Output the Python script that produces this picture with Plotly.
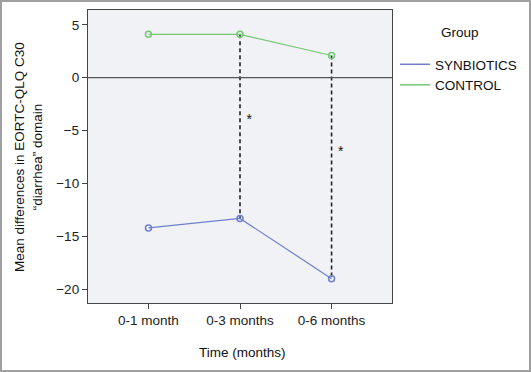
import plotly.graph_objects as go

categories = ["0-1 month", "0-3 months", "0-6 months"]
synbiotics = [-14.2, -13.3, -19.0]
control = [4.1, 4.1, 2.1]
y_ticks = [5, 0, -5, -10, -15, -20]
sig_idx = [1, 2]
star_y = [-4.0, -7.1]

W, H = 531, 372
L, R, T, B = 88, 139, 10, 69
pw, ph = W - L - R, H - T - B


def px_x(px):
    return (px - L) / pw


def px_y(py):
    return (H - B - py) / ph


xs = list(range(len(categories)))
blue = "#6f7fcb"
green = "#74c874"
FONT = "Liberation Sans, Arial"
FS = 13.5

fig = go.Figure()
for i in sig_idx:
    fig.add_trace(go.Scatter(x=[xs[i], xs[i]], y=[control[i], synbiotics[i]], mode="lines",
                             line=dict(color="#222222", width=1.6, dash="4px,3px"),
                             showlegend=False, hoverinfo="skip"))
fig.add_trace(go.Scatter(x=xs, y=synbiotics, mode="lines+markers", name="SYNBIOTICS",
                         line=dict(color=blue, width=1.2), showlegend=False,
                         marker=dict(symbol="circle-open", size=6, color=blue, line=dict(width=1.5))))
fig.add_trace(go.Scatter(x=xs, y=control, mode="lines+markers", name="CONTROL",
                         line=dict(color=green, width=1.2), showlegend=False,
                         marker=dict(symbol="circle-open", size=6, color=green, line=dict(width=1.5))))
fig.add_trace(go.Scatter(x=[None], y=[None], mode="lines", name="SYNBIOTICS",
                         line=dict(color=blue, width=1.5)))
fig.add_trace(go.Scatter(x=[None], y=[None], mode="lines", name="CONTROL",
                         line=dict(color=green, width=1.5)))
fig.add_trace(go.Scatter(x=[xs[i] + 0.1 for i in sig_idx], y=star_y, mode="text", text=["*", "*"],
                         textfont=dict(size=14, color="#111111", family=FONT),
                         showlegend=False, hoverinfo="skip"))

fig.add_shape(type="line", xref="paper", yref="y", x0=0, x1=1, y0=0, y1=0,
              line=dict(color="#555555", width=1.3))
fig.add_shape(type="rect", xref="paper", yref="paper",
              x0=px_x(1), x1=px_x(530), y0=px_y(371), y1=px_y(1),
              line=dict(color="#a0a0a0", width=2), layer="below")

fig.update_layout(
    width=W, height=H,
    margin=dict(l=L, r=R, t=T, b=B, autoexpand=False),
    paper_bgcolor="white", plot_bgcolor="#f1f2f5",
    font=dict(family=FONT, size=FS, color="#222222"),
    legend=dict(x=px_x(395), y=px_y(49), xanchor="left", yanchor="top",
                bgcolor="rgba(0,0,0,0)", font=dict(size=FS, color="#111111"),
                itemwidth=30, tracegroupgap=0, borderwidth=0),
    annotations=[dict(text="Group", xref="paper", yref="paper", x=px_x(460), y=px_y(32),
                      showarrow=False, font=dict(size=FS, color="#111111"),
                      xanchor="center", yanchor="middle"),
                 dict(text="Mean differences in EORTC-QLQ C30<br>\u201cdiarrhea\u201d domain",
                      xref="paper", yref="paper", x=px_x(28), y=px_y(157), textangle=-90,
                      showarrow=False, font=dict(size=FS, color="#111111"),
                      xanchor="center", yanchor="middle"),
                 dict(text="Time (months)", xref="paper", yref="paper", x=px_x(242), y=px_y(352),
                      showarrow=False, font=dict(size=FS, color="#111111"),
                      xanchor="center", yanchor="middle")],
)
fig.update_xaxes(range=[-0.66, 2.66], tickmode="array", tickvals=xs, ticktext=categories,
                 showgrid=False, zeroline=False, showline=True, linecolor="#444444", linewidth=1.3,
                 mirror=True, ticks="outside", ticklen=5, tickcolor="#444444", automargin=False,
                 tickfont=dict(size=FS))
fig.update_yaxes(range=[-21.3, 6.4], tickmode="array", tickvals=y_ticks,
                 showgrid=False, zeroline=False, showline=True, linecolor="#444444", linewidth=1.3,
                 mirror=True, ticks="outside", ticklen=5, tickcolor="#444444", automargin=False,
                 tickfont=dict(size=FS))
fig.write_html("out.html", config={"displayModeBar": False},
               post_script="document.body.style.margin='0';")
